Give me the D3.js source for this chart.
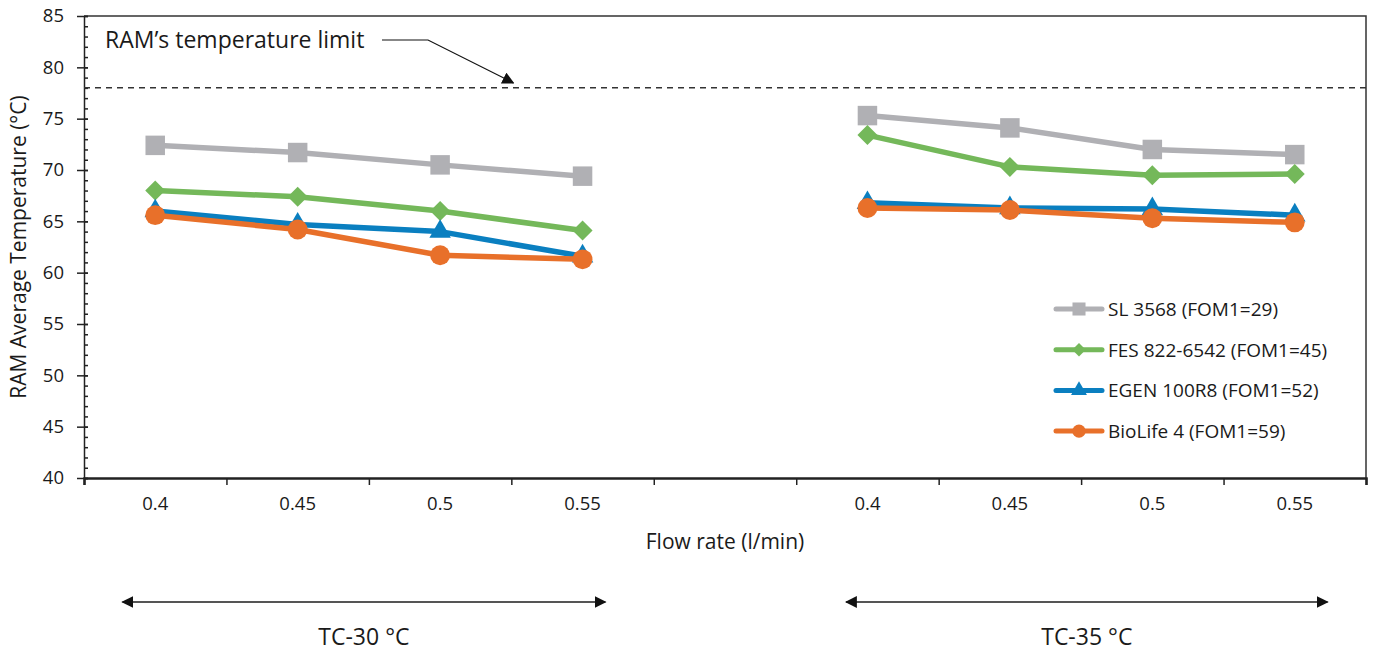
<!DOCTYPE html>
<html>
<head>
<meta charset="utf-8">
<script src="https://cdn.jsdelivr.net/npm/d3@7"></script>
<style>
  body { margin: 0; background: #fff; }
  text { font-family: "Open Sans", Lato, sans-serif; fill: #1a1a1a; }
</style>
</head>
<body>
<script>
// ---- data ----
var categories = ["0.4", "0.45", "0.5", "0.55", "", "0.4", "0.45", "0.5", "0.55"];
var groupLabels = ["TC-30 °C", "TC-35 °C"];
var seriesNames = ["SL 3568 (FOM1=29)", "FES 822-6542 (FOM1=45)", "EGEN 100R8 (FOM1=52)", "BioLife 4 (FOM1=59)"];
// first four values: TC-30, last four: TC-35
var sl3568   = [72.4, 71.7, 70.5, 69.4, 75.3, 74.1, 72.0, 71.5];
var fes822   = [68.0, 67.4, 66.0, 64.1, 73.4, 70.3, 69.5, 69.6];
var egen100  = [66.0, 64.7, 64.0, 61.6, 66.8, 66.3, 66.2, 65.6];
var biolife4 = [65.6, 64.2, 61.7, 61.3, 66.3, 66.1, 65.3, 64.9];
var tempLimit = 78;
var yTicks = [40, 45, 50, 55, 60, 65, 70, 75, 80, 85];

var width = 1375;
var height = 653;
var margin = { top: 16, right: 9, bottom: 175, left: 84 };
var graphWidth = width - margin.left - margin.right;
var graphHeight = height - margin.top - margin.bottom;

// Excel-like square diamond (d3's symbolDiamond is too narrow)
var squareDiamond = {
  draw: function(context, size) {
    var r = Math.sqrt(size / 2);
    context.moveTo(0, -r);
    context.lineTo(r, 0);
    context.lineTo(0, r);
    context.lineTo(-r, 0);
    context.closePath();
  }
};

var colors = ["#b0b0b4", "#74b85a", "#0a7fc0", "#e8702a"];
var symbols = [d3.symbolSquare, squareDiamond, d3.symbolTriangle, d3.symbolCircle];
var symbolSizes = [380, 200, 200, 310];
var legendSizes = [170, 90, 110, 140];
var allSeries = [sl3568, fes822, egen100, biolife4];

var svg = d3.select("body").append("svg")
  .attr("width", width)
  .attr("height", height);

var defs = svg.append("defs");
defs.append("marker").attr("id", "arrowHead")
  .attr("viewBox", "0 0 10 10").attr("refX", 9).attr("refY", 5)
  .attr("markerWidth", 12).attr("markerHeight", 12).attr("markerUnits", "userSpaceOnUse")
  .attr("orient", "auto-start-reverse")
  .append("path").attr("d", "M0,0 L10,5 L0,10 Z").attr("fill", "#111");

var g = svg.append("g").attr("transform", `translate(${margin.left}, ${margin.top})`);

// scales
var x = d3.scaleBand().domain(d3.range(categories.length)).range([0, graphWidth]);
var xEdge = d3.scaleLinear().domain([0, categories.length]).range([0, graphWidth]);
var y = d3.scaleLinear().domain([40, 85]).range([graphHeight, 0]);

function catIndex(j) { return j < 4 ? j : j + 1; }
function cx(j) { return x(catIndex(j)) + x.bandwidth() / 2; }

// frame (top and right)
g.append("path")
  .attr("d", `M0,0 H${graphWidth} V${graphHeight}`)
  .attr("fill", "none").attr("stroke", "#333").attr("stroke-width", 1.5);

// y axis: minor ticks inside, major ticks crossing
g.append("g")
  .call(d3.axisRight(y).tickValues(d3.range(40, 86, 1)).tickSize(4).tickFormat(""))
  .call(function(a) { a.select(".domain").remove(); a.selectAll("line").attr("stroke", "#222").attr("stroke-width", 1.5); });

var yAxis = g.append("g")
  .call(d3.axisLeft(y).tickValues(yTicks).tickSizeInner(7).tickSizeOuter(0).tickPadding(13));
yAxis.select(".domain").attr("stroke", "#222").attr("stroke-width", 1.5);
yAxis.selectAll("line").attr("stroke", "#222").attr("stroke-width", 1.5).attr("x2", -7).attr("x1", 4);
yAxis.selectAll("text").style("font-size", "18.5px").attr("fill", "#1a1a1a");

// x axis: boundary ticks and centred labels
var xTickAxis = g.append("g").attr("transform", `translate(0, ${graphHeight})`)
  .call(d3.axisBottom(xEdge).tickValues(d3.range(0, categories.length + 1)).tickSize(7).tickFormat(""));
xTickAxis.select(".domain").attr("stroke", "#222").attr("stroke-width", 2.5);
xTickAxis.selectAll("line").attr("stroke", "#222").attr("stroke-width", 1.5);

var xLabelAxis = g.append("g").attr("transform", `translate(0, ${graphHeight})`)
  .call(d3.axisBottom(x).tickSize(0).tickPadding(19).tickFormat(function(i) { return categories[i]; }));
xLabelAxis.select(".domain").remove();
xLabelAxis.selectAll("text").style("font-size", "18.5px").attr("fill", "#1a1a1a");

// temperature limit line
g.append("line")
  .attr("x1", 0).attr("x2", graphWidth)
  .attr("y1", y(tempLimit)).attr("y2", y(tempLimit))
  .attr("stroke", "#333").attr("stroke-width", 1.5).attr("stroke-dasharray", "6,5");

g.append("text")
  .attr("x", 21).attr("y", 32)
  .style("font-size", "23px")
  .text("RAM\u2019s temperature limit");

g.append("path")
  .attr("d", `M298,24 H344 L${xEdge(3) + 2},${y(tempLimit) - 5}`)
  .attr("fill", "none").attr("stroke", "#111").attr("stroke-width", 1.2)
  .attr("marker-end", "url(#arrowHead)");

// series lines and markers
var line = d3.line().x(function(d) { return cx(d.j); }).y(function(d) { return y(d.v); });

allSeries.forEach(function(values, s) {
  var pts = values.map(function(v, j) { return { v: v, j: j }; });
  [pts.slice(0, 4), pts.slice(4)].forEach(function(seg) {
    g.append("path").datum(seg)
      .attr("d", line)
      .attr("fill", "none")
      .attr("stroke", colors[s])
      .attr("stroke-width", 5.5)
      .attr("stroke-linejoin", "round");
  });
  g.selectAll(".m" + s).data(pts).enter().append("path")
    .attr("class", "m" + s)
    .attr("transform", function(d) { return `translate(${cx(d.j)}, ${y(d.v)})`; })
    .attr("d", d3.symbol().type(symbols[s]).size(symbolSizes[s]))
    .attr("fill", colors[s]);
});

// legend
var legend = g.append("g").attr("transform", `translate(${graphWidth - 310}, 293)`);
seriesNames.forEach(function(name, s) {
  var row = legend.append("g").attr("transform", `translate(0, ${s * 40.7})`);
  row.append("line").attr("x1", 0).attr("x2", 46).attr("y1", 0).attr("y2", 0)
    .attr("stroke", colors[s]).attr("stroke-width", 5).attr("stroke-linecap", "round");
  row.append("path").attr("transform", "translate(23, 0)")
    .attr("d", d3.symbol().type(symbols[s]).size(legendSizes[s]))
    .attr("fill", colors[s]);
  row.append("text").attr("x", 52).attr("y", 7).style("font-size", "19px").text(name);
});

// axis titles
g.append("text")
  .attr("transform", `translate(${-58}, ${graphHeight / 2}) rotate(-90)`)
  .attr("text-anchor", "middle")
  .style("font-size", "21px")
  .text("RAM Average Temperature (°C)");

g.append("text")
  .attr("x", xEdge(4.5)).attr("y", graphHeight + 71)
  .attr("text-anchor", "middle")
  .style("font-size", "21px")
  .text("Flow rate (l/min)");

// condition ranges below the axis (in category-edge units)
var groupSpans = [[0.27, 3.66], [5.35, 8.73]];
groupSpans.forEach(function(r, i) {
  var x1 = xEdge(r[0]);
  var x2 = xEdge(r[1]);
  g.append("line")
    .attr("x1", x1).attr("x2", x2)
    .attr("y1", graphHeight + 124).attr("y2", graphHeight + 124)
    .attr("stroke", "#555").attr("stroke-width", 2)
    .attr("marker-start", "url(#arrowHead)")
    .attr("marker-end", "url(#arrowHead)");
  g.append("text")
    .attr("x", (x1 + x2) / 2).attr("y", graphHeight + 167)
    .attr("text-anchor", "middle")
    .style("font-size", "23px")
    .text(groupLabels[i]);
});
</script>
</body>
</html>
